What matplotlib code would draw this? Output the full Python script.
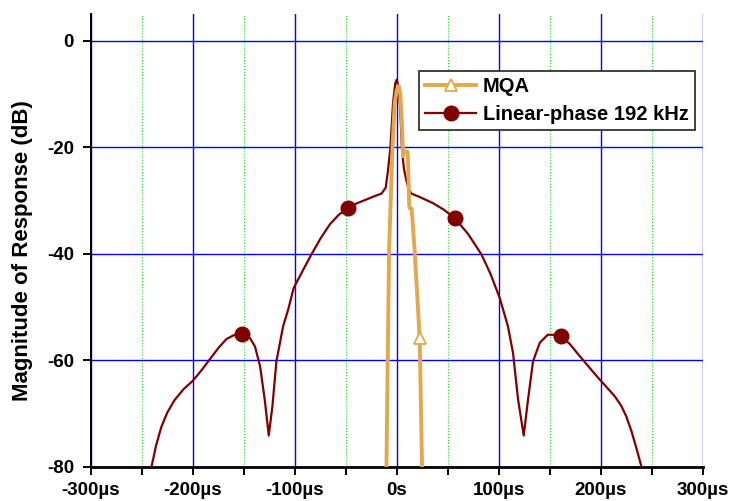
import matplotlib
matplotlib.use("Agg")
import matplotlib.pyplot as plt
from matplotlib.ticker import FixedLocator, FixedFormatter

plt.rcParams['font.family'] = ['Liberation Sans', 'DejaVu Sans']
plt.rcParams['font.weight'] = 'bold'
plt.rcParams['axes.unicode_minus'] = False

# Linear-phase 192 kHz impulse magnitude (time in us, dB)
lin_t = [-250, -240.5, -236, -231, -225, -218, -209, -200.3, -192, -183.3, -175, -167,
         -160, -152, -144, -139, -134, -129.4, -125.5, -121.9, -118, -111.4, -106.5,
         -101, -92, -83.6, -75, -65.7, -57, -47.7, -40, -29.7, -22, -15, -10.8, -8.5,
         -6.2, -3.6, -1.5, 0, 1.5, 3.5, 5, 7, 9.5, 12, 14.4, 22, 35.6, 46, 56.9, 70,
         83, 92, 101, 109, 114, 119, 124.5, 128.7, 133.6, 140.2, 148, 155, 161.5,
         170, 179.4, 190, 199, 208, 214, 220, 225, 230, 235, 240, 250]
lin_db = [-92, -80, -76, -72.6, -69.8, -67.5, -65.4, -63.9, -62, -59.8, -57.7, -56,
          -55.3, -55, -55.8, -57.4, -61.1, -67.4, -74.1, -68.6, -60.2, -53.6, -50.5,
          -46.4, -43.1, -40.1, -37.2, -34.5, -32.7, -31.4, -30.6, -29.8, -29.2, -28.7, -27.6, -24.2,
          -20, -11.7, -8, -7.3, -8.5, -13, -20, -24, -26.3, -28, -28.7, -29.3, -30.5, -31.7, -33.3, -36.3,
          -40.1, -43.8, -48.3, -53.6, -58.6, -67.4, -74.1, -67.4, -60.2, -56.7, -55.2, -55.2, -55.5,
          -57, -59.2, -61.6, -63.6, -65.5, -66.8, -68.5, -70.5, -73.2, -76.5, -80, -90]
lin_marks = [-152, -47.7, 56.9, 161.5]

# MQA impulse magnitude
mqa_t = [-10.6, -10.1, -7.5, -6.2, -4.2, -2, 0, 2, 3.5, 5, 6.2, 6.6, 10.5, 11.1,
         12.2, 13, 14.5, 15.2, 17.6, 22.5, 24.8, 25.2]
mqa_db = [-85, -80, -39.2, -31.7, -20, -11.7, -9.3, -8.5, -10, -15, -21.7, -20.8, -20.8, -22.5,
          -31, -31.5, -31.5, -33, -39.5, -55.8, -80, -85]
mqa_marks = [22.5]

x_ticks = [-300, -200, -100, 0, 100, 200, 300]
x_labels = ['-300\u00b5s', '-200\u00b5s', '-100\u00b5s', '0s', '100\u00b5s', '200\u00b5s', '300\u00b5s']
x_minor = [-250, -150, -50, 50, 150, 250]
y_ticks = [0, -20, -40, -60, -80]

fig = plt.figure(figsize=(7.32, 5.01), dpi=100)
ax = fig.add_axes([0.124, 0.068, 0.836, 0.904])

ax.plot(mqa_t, mqa_db, color='#e2a84e', lw=2.8, marker='^', ms=9, mfc='white',
        mec='#e2a84e', mew=1.3, markevery=[mqa_t.index(m) for m in mqa_marks],
        label='MQA', zorder=4)
ax.plot(lin_t, lin_db, color='#800000', lw=1.6, marker='o', ms=10.5, mfc='#800000',
        mec='#800000', markevery=[lin_t.index(m) for m in lin_marks],
        label='Linear-phase 192 kHz', zorder=3)

ax.set_xlim(-300, 300)
ax.set_ylim(-80, 5)
ax.xaxis.set_major_locator(FixedLocator(x_ticks))
ax.xaxis.set_major_formatter(FixedFormatter(x_labels))
ax.xaxis.set_minor_locator(FixedLocator(x_minor))
ax.set_yticks(y_ticks)

ax.grid(True, which='major', color='#0000ff', lw=1.0, ls='-', zorder=1)
ax.grid(True, which='minor', axis='x', color='#22dd22', lw=0.8, ls=':', zorder=1)
ax.set_axisbelow(True)

for s in ['top', 'right']:
    ax.spines[s].set_visible(False)
ax.spines['left'].set_linewidth(1.4)
ax.spines['bottom'].set_linewidth(2)
ax.tick_params(which='both', direction='out', length=6, width=1.4, labelsize=13.5)
ax.tick_params(axis='y', pad=6)
ax.tick_params(axis='x', pad=5)

ax.set_ylabel('Magnitude of Response (dB)', fontsize=16, fontweight='bold')
ax.yaxis.set_label_coords(-0.095, 0.477)

leg = ax.legend(loc='upper left', bbox_to_anchor=(0.537, 0.875), borderaxespad=0,
                fancybox=False, framealpha=1, edgecolor='#333333', fontsize=14.5,
                handlelength=2.5, borderpad=0.3, labelspacing=0.45, handletextpad=0.35)
leg.get_frame().set_linewidth(1.3)

fig.savefig('out.png', dpi=100)
